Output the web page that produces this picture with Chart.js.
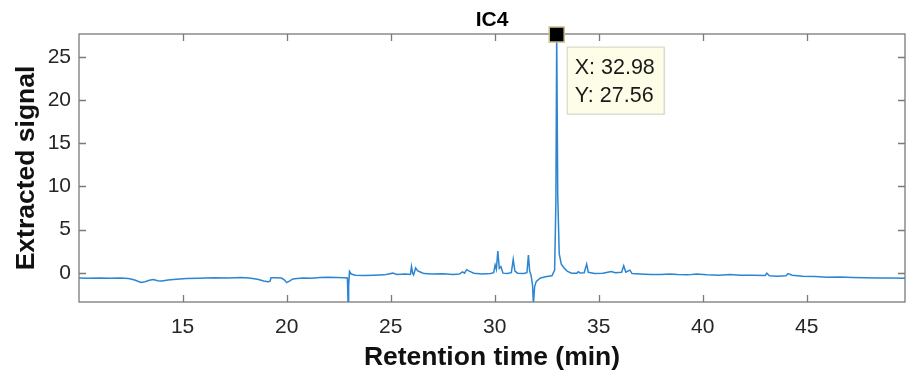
<!DOCTYPE html>
<html>
<head>
<meta charset="utf-8">
<script src="https://cdn.jsdelivr.net/npm/chart.js@4/dist/chart.umd.min.js"></script>
<style>
  html, body { margin: 0; padding: 0; background: #fff; }
  #wrap { width: 910px; height: 375px; }
</style>
</head>
<body>
<div id="wrap"><canvas id="chart" width="910" height="375"></canvas></div>
<script>
// retention time (min) and extracted signal
const retentionTime = [
  10.03, 10.5, 11.0, 11.5, 12.0, 12.4, 12.7, 13.0, 13.2, 13.4, 13.6, 13.8, 14.0, 14.3, 14.7,
  15.2, 15.8, 16.5, 17.2, 17.8, 18.2, 18.6, 18.9, 19.1, 19.2, 19.25, 19.5, 19.75, 19.9, 20.0,
  20.15, 20.3, 20.5, 20.8, 21.2, 21.6, 22.0, 22.4, 22.8, 22.92, 22.95, 22.98, 23.02, 23.1, 23.3,
  23.7, 24.2, 24.7, 25.1, 25.3, 25.7, 25.95, 26.0, 26.06, 26.1, 26.2, 26.3, 26.45, 26.6, 27.0,
  27.5, 28.0, 28.3, 28.45, 28.55, 28.65, 28.8, 29.0, 29.4, 29.8, 29.95, 30.02, 30.08, 30.15, 30.22,
  30.3, 30.4, 30.6, 30.8, 30.89, 30.97, 31.1, 31.4, 31.55, 31.62, 31.68, 31.75, 31.82, 31.86, 31.92,
  32.0, 32.2, 32.5, 32.75, 32.88, 32.94, 32.98, 33.03, 33.1, 33.2, 33.35, 33.5, 33.7, 33.95, 34.02,
  34.1, 34.3, 34.42, 34.5, 34.8, 35.2, 35.6, 35.8, 36.1, 36.2, 36.3, 36.5, 36.6, 37.0, 37.5,
  38.0, 38.4, 38.8, 39.3, 39.7, 40.2, 40.8, 41.3, 41.8, 42.4, 43.0, 43.08, 43.2, 43.6, 44.0,
  44.1, 44.3, 44.8, 45.4, 46.0, 46.6, 47.2, 47.8, 48.4, 49.0, 49.72
];
const extractedSignal = [
  -0.62, -0.64, -0.60, -0.63, -0.62, -0.68, -0.85, -1.12, -1.05, -0.88, -0.80, -0.92, -0.95, -0.85, -0.75,
  -0.68, -0.63, -0.58, -0.60, -0.56, -0.60, -0.75, -0.95, -1.05, -1.00, -0.58, -0.57, -0.62, -0.85, -1.15,
  -0.95, -0.72, -0.68, -0.62, -0.65, -0.55, -0.52, -0.55, -0.58, -0.60, -3.30, -1.50, 0.15, -0.15, -0.30,
  -0.32, -0.28, -0.25, -0.05, -0.20, -0.15, -0.20, 0.72, -0.10, -0.25, 0.55, 0.20, 0.05, -0.10, -0.15,
  -0.12, -0.20, -0.15, 0.10, -0.05, 0.35, 0.15, -0.05, -0.15, -0.10, 0.00, 0.90, 0.40, 2.50, 0.50,
  0.70, -0.05, -0.10, 0.00, 1.55, 0.20, -0.05, -0.10, 0.00, 2.05, 0.20, -0.30, -1.50, -3.60, -1.60,
  -1.00, -0.60, -0.45, -0.35, 0.30, 8.00, 27.56, 9.00, 2.20, 1.00, 0.50, 0.15, -0.05, -0.05, 0.12,
  -0.02, 0.00, 1.00, 0.05, -0.08, -0.05, 0.15, 0.00, 0.05, 0.80, 0.05, 0.30, -0.10, -0.15, -0.20,
  -0.22, -0.15, -0.22, -0.25, -0.15, -0.25, -0.28, -0.22, -0.30, -0.28, -0.32, -0.05, -0.35, -0.40, -0.35,
  -0.10, -0.30, -0.40, -0.45, -0.52, -0.50, -0.55, -0.58, -0.60, -0.62, -0.64
];

// data tip on the main peak
const tipX = [32.98];
const tipY = [27.56];

const xTicks = [15, 20, 25, 30, 35, 40, 45];
const yTicks = [0, 5, 10, 15, 20, 25];

const chartTitle = 'IC4';
const xTitle = 'Retention time (min)';
const yTitle = 'Extracted signal';

const axisGrey = '#7a7a7a';
const textDark = '#262626';
const lineBlue = '#2b85d3';
const fontFamily = '"Liberation Sans", Arial, sans-serif';

const frameAndTicks = {
  id: 'frameAndTicks',
  beforeDatasetsDraw(chart) {
    const { ctx, chartArea: a, scales } = chart;
    const len = 7;
    ctx.save();
    ctx.strokeStyle = axisGrey;
    ctx.lineWidth = 1.3;
    ctx.strokeRect(a.left, a.top, a.right - a.left, a.bottom - a.top);
    ctx.beginPath();
    xTicks.forEach(v => {
      const px = Math.round(scales.x.getPixelForValue(v)) + 0.5;
      ctx.moveTo(px, a.bottom); ctx.lineTo(px, a.bottom - len);
      ctx.moveTo(px, a.top); ctx.lineTo(px, a.top + len);
    });
    yTicks.forEach(v => {
      const py = Math.round(scales.y.getPixelForValue(v)) + 0.5;
      ctx.moveTo(a.left, py); ctx.lineTo(a.left + len, py);
      ctx.moveTo(a.right, py); ctx.lineTo(a.right - len, py);
    });
    ctx.stroke();
    ctx.restore();
  },
  afterDatasetsDraw(chart) {
    const { ctx, chartArea: a, scales } = chart;
    // title centred on the plot area
    ctx.save();
    ctx.fillStyle = '#000';
    ctx.font = 'bold 21px ' + fontFamily;
    ctx.textAlign = 'center';
    ctx.textBaseline = 'middle';
    ctx.fillText(chartTitle, (a.left + a.right) / 2, 20);

    // datatip box
    const px = scales.x.getPixelForValue(tipX[0]);
    const py = scales.y.getPixelForValue(tipY[0]);
    const bx = px + 10, by = py + 12, bw = 97, bh = 67;
    ctx.fillStyle = 'rgba(0,0,0,0.06)';
    ctx.fillRect(bx + 1.5, by + 1.5, bw, bh);
    ctx.fillStyle = '#fdfde8';
    ctx.fillRect(bx, by, bw, bh);
    ctx.strokeStyle = '#d2d2c4';
    ctx.lineWidth = 1;
    ctx.strokeRect(bx + 0.5, by + 0.5, bw, bh);
    ctx.fillStyle = '#1a1a1a';
    ctx.font = '21.5px ' + fontFamily;
    ctx.textAlign = 'left';
    ctx.textBaseline = 'alphabetic';
    ctx.fillText('X: ' + tipX[0].toFixed(2), bx + 8, py + 39);
    ctx.fillText('Y: ' + tipY[0].toFixed(2), bx + 8, py + 67);
    ctx.restore();
  }
};

new Chart(document.getElementById('chart'), {
  type: 'scatter',
  data: {
    datasets: [
      {
        label: 'IC4',
        data: retentionTime.map((t, i) => ({ x: t, y: extractedSignal[i] })),
        showLine: true,
        borderColor: lineBlue,
        borderWidth: 1.5,
        pointRadius: 0,
        tension: 0,
        order: 2
      },
      {
        label: 'tip',
        data: tipX.map((t, i) => ({ x: t, y: tipY[i] })),
        pointStyle: 'rect',
        pointRadius: 10.6,
        backgroundColor: '#000',
        borderColor: '#c9c08a',
        borderWidth: 1.5,
        clip: false,
        order: 1
      }
    ]
  },
  options: {
    responsive: false,
    animation: false,
    devicePixelRatio: 1,
    layout: { autoPadding: false, padding: { top: 34, right: 5, left: 0, bottom: 0 } },
    plugins: {
      legend: { display: false },
      tooltip: { enabled: false },
      title: { display: false }
    },
    scales: {
      x: {
        type: 'linear',
        min: 10.02,
        max: 49.72,
        grid: { display: false, drawTicks: false },
        border: { display: false },
        afterBuildTicks: s => { s.ticks = xTicks.map(v => ({ value: v })); },
        afterFit: s => { s.height = 73; s.paddingLeft = 0; s.paddingRight = 0; },
        ticks: {
          color: textDark,
          padding: 13,
          font: { family: fontFamily, size: 21 },
          maxRotation: 0
        },
        title: {
          display: true,
          text: xTitle,
          color: '#111',
          font: { family: fontFamily, size: 26.5, weight: 'bold' },
          padding: { top: 0, bottom: 1.5 }
        }
      },
      y: {
        type: 'linear',
        min: -3.39,
        max: 27.63,
        grid: { display: false, drawTicks: false },
        border: { display: false },
        afterBuildTicks: s => { s.ticks = yTicks.map(v => ({ value: v })); },
        afterFit: s => { s.width = 79; s.paddingTop = 0; s.paddingBottom = 0; },
        ticks: {
          color: textDark,
          padding: 8,
          font: { family: fontFamily, size: 21 }
        },
        title: {
          display: true,
          text: yTitle,
          color: '#111',
          font: { family: fontFamily, size: 26.5, weight: 'bold' },
          padding: { top: 11, bottom: 0 }
        }
      }
    }
  },
  plugins: [frameAndTicks]
});
</script>
</body>
</html>
